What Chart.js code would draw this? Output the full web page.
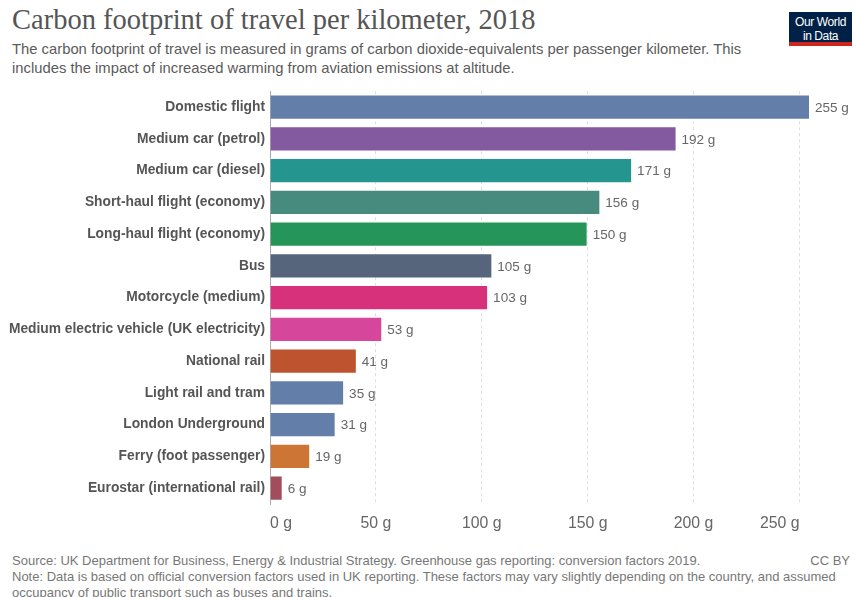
<!DOCTYPE html>
<html>
<head>
<meta charset="utf-8">
<script src="https://cdn.jsdelivr.net/npm/chart.js@4.4.1/dist/chart.umd.min.js"></script>
<style>
  body { margin: 0; background: #fff; font-family: "Liberation Sans", Arial, sans-serif; }
  #wrap { position: relative; width: 856px; height: 597px; overflow: hidden; }
  h1 { position: absolute; left: 12px; top: 4px; margin: 0; font: 400 28.5px "Liberation Serif", serif; color: #555; }
  .sub { position: absolute; left: 12px; top: 40px; margin: 0; font-size: 14.8px; line-height: 19px; color: #5b5b5b; width: 745px; }
  .logo { position: absolute; left: 789px; top: 12px; width: 63px; height: 34px; background: #002147; border-bottom: 4px solid #ce261e;
          color: #fff; font-size: 12px; line-height: 14px; text-align: center; padding-top: 3px; box-sizing: border-box; letter-spacing: -0.4px; }
  #box { position: absolute; left: 0; top: 78px; width: 856px; height: 469px; }
  .foot { position: absolute; left: 12px; top: 553px; font-size: 13px; line-height: 16px; color: #777; width: 840px; }
  .cc { position: absolute; right: 6px; top: 553px; font-size: 13px; color: #777; }
</style>
</head>
<body>
<div id="wrap">
  <h1>Carbon footprint of travel per kilometer, 2018</h1>
  <p class="sub">The carbon footprint of travel is measured in grams of carbon dioxide-equivalents per passenger kilometer. This includes the impact of increased warming from aviation emissions at altitude.</p>
  <div class="logo">Our World<br>in Data</div>
  <div id="box"><canvas id="chart"></canvas></div>
  <div class="foot">Source: UK Department for Business, Energy &amp; Industrial Strategy. Greenhouse gas reporting: conversion factors 2019.<br>Note: Data is based on official conversion factors used in UK reporting. These factors may vary slightly depending on the country, and assumed occupancy of public transport such as buses and trains.</div>
  <div class="cc">CC BY</div>
</div>
<script>
const modes = [
  'Domestic flight', 'Medium car (petrol)', 'Medium car (diesel)', 'Short-haul flight (economy)',
  'Long-haul flight (economy)', 'Bus', 'Motorcycle (medium)', 'Medium electric vehicle (UK electricity)',
  'National rail', 'Light rail and tram', 'London Underground', 'Ferry (foot passenger)', 'Eurostar (international rail)'
];
const grams = [255, 192, 171, 156, 150, 105, 103, 53, 41, 35, 31, 19, 6];
const barColors = [
  '#637ea8', '#8359a0', '#24968f', '#468b7e', '#26955a', '#56657c', '#d6317a',
  '#d6469a', '#be5330', '#637ea8', '#637ea8', '#cc7535', '#a14e5a'
];
const xTicks = [0, 50, 100, 150, 200, 250];

// write "N g" just past the end of each bar
const valueLabels = {
  id: 'valueLabels',
  afterDatasetsDraw(chart) {
    const ctx = chart.ctx;
    const meta = chart.getDatasetMeta(0);
    ctx.save();
    ctx.font = '13.5px "Liberation Sans", Arial, sans-serif';
    ctx.fillStyle = '#666';
    ctx.textBaseline = 'middle';
    meta.data.forEach((bar, i) => {
      ctx.fillText(grams[i] + ' g', bar.x + 5, bar.y + 1);
    });
    ctx.restore();
  }
};

new Chart(document.getElementById('chart'), {
  type: 'bar',
  data: {
    labels: modes,
    datasets: [{
      data: grams,
      backgroundColor: barColors,
      borderColor: 'rgba(255,255,255,0.45)',
      borderWidth: 1,
      barPercentage: 0.8,
      categoryPercentage: 1
    }]
  },
  options: {
    indexAxis: 'y',
    responsive: true,
    maintainAspectRatio: false,
    animation: false,
    layout: { padding: { top: 0, right: 46, bottom: 5, left: 0 } },
    plugins: { legend: { display: false }, tooltip: { enabled: false } },
    scales: {
      x: {
        min: 0,
        max: 255,
        afterBuildTicks: s => { s.ticks = xTicks.map(v => ({ value: v })); },
        afterFit: s => { s.height = 38; },
        grid: { color: '#ddd', drawTicks: false, tickLength: 0 },
        border: { display: false, dash: [3, 3] },
        ticks: {
          padding: 10,
          align: 'inner',
          color: '#666',
          font: { size: 15.8, family: '"Liberation Sans", Arial, sans-serif' },
          callback: v => v + ' g'
        }
      },
      y: {
        afterFit: s => { s.width = 270; },
        grid: { display: false, drawTicks: false, tickLength: 0 },
        border: { display: true, color: '#aaa' },
        ticks: {
          padding: 5,
          color: '#555',
          font: { size: 13.8, weight: 'bold', family: '"Liberation Sans", Arial, sans-serif' }
        }
      }
    }
  },
  plugins: [valueLabels]
});
</script>
</body>
</html>
